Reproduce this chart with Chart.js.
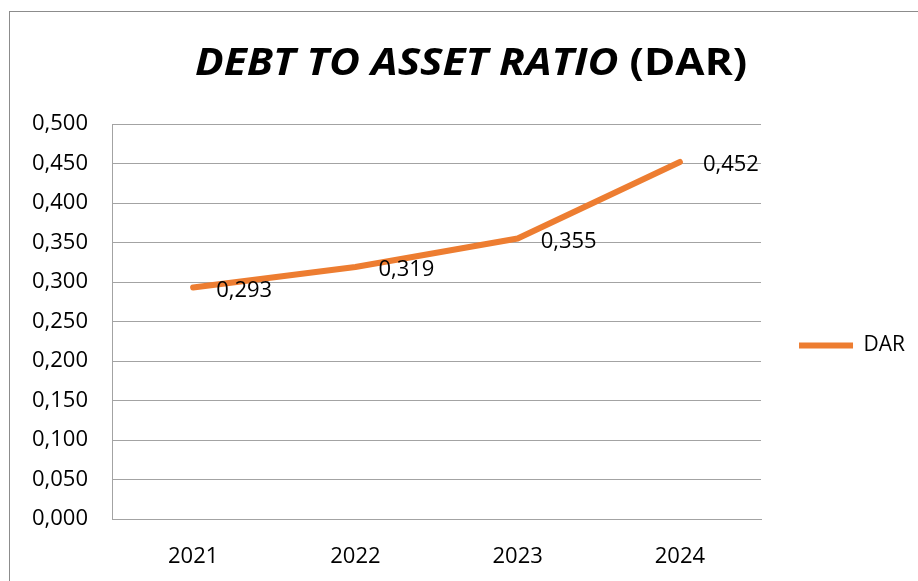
<!DOCTYPE html>
<html>
<head>
<meta charset="utf-8">
<title>DAR</title>
<script src="https://cdn.jsdelivr.net/npm/chart.js@4.4.1/dist/chart.umd.min.js"></script>
<style>
    html, body { margin: 0; padding: 0; background: #fff; overflow: hidden; }
    #dar-chart { display: block; }
</style>
</head>
<body>
<canvas id="dar-chart" width="918" height="581"></canvas>
<script>
// data
const years = ['2021', '2022', '2023', '2024'];
const darValues = [0.293, 0.319, 0.355, 0.452];
const yTickLabels = ['0,000', '0,050', '0,100', '0,150', '0,200', '0,250', '0,300', '0,350', '0,400', '0,450', '0,500'];
const seriesName = 'DAR';
const titleItalic = 'DEBT TO ASSET RATIO';
const titlePlain = '(DAR)';

const FONT = '"Open Sans", "DejaVu Sans", sans-serif';
const GRID = '#a3a3a3';
const ORANGE = '#ED7D31';

function fmt(v) {
    return v.toFixed(3).replace('.', ',');
}

// frame + title (mixed italic / upright, so drawn by hand)
const frameAndTitle = {
    id: 'frameAndTitle',
    beforeDraw(chart) {
        const ctx = chart.ctx;
        ctx.save();
        ctx.fillStyle = '#fff';
        ctx.fillRect(0, 0, chart.width, chart.height);
        ctx.strokeStyle = '#8c8c8c';
        ctx.lineWidth = 1;
        ctx.strokeRect(9.5, 11.5, 1000, 1000);
        ctx.restore();
    },
    afterDraw(chart) {
        const ctx = chart.ctx;
        const fontA = 'italic bold 38px ' + FONT;
        const fontB = 'bold 38px ' + FONT;
        ctx.save();
        ctx.font = fontA;
        const wA = ctx.measureText(titleItalic + ' ').width;
        ctx.font = fontB;
        const wB = ctx.measureText(titlePlain).width;
        const sx = 552 / (wA + wB);
        ctx.translate(195, 75);
        ctx.scale(sx, 1);
        ctx.fillStyle = '#000';
        ctx.textBaseline = 'alphabetic';
        ctx.textAlign = 'left';
        ctx.font = fontA;
        ctx.fillText(titleItalic, 0, 0);
        ctx.font = fontB;
        ctx.fillText(titlePlain, wA, 0);
        ctx.restore();
    }
};

// value labels to the right of each point
const valueLabels = {
    id: 'valueLabels',
    afterDatasetsDraw(chart) {
        const ctx = chart.ctx;
        const meta = chart.getDatasetMeta(0);
        ctx.save();
        ctx.font = '22px ' + FONT;
        ctx.fillStyle = '#000';
        ctx.textAlign = 'left';
        ctx.textBaseline = 'middle';
        meta.data.forEach((pt, i) => {
            ctx.fillText(fmt(darValues[i]), pt.x + 23, pt.y + 3);
        });
        ctx.restore();
    }
};

const ctx = document.getElementById('dar-chart').getContext('2d');
new Chart(ctx, {
    type: 'line',
    data: {
        labels: years,
        datasets: [{
            label: seriesName,
            data: darValues,
            borderColor: ORANGE,
            backgroundColor: ORANGE,
            borderWidth: 6,
            borderCapStyle: 'round',
            borderJoinStyle: 'round',
            pointRadius: 0,
            tension: 0,
            fill: false
        }]
    },
    options: {
        responsive: false,
        animation: false,
        devicePixelRatio: 1,
        layout: {
            padding: { left: 0, top: 124, right: 3, bottom: 14 }
        },
        plugins: {
            title: { display: false },
            tooltip: { enabled: false },
            legend: {
                display: true,
                position: 'right',
                align: 'center',
                labels: {
                    usePointStyle: true,
                    pointStyle: 'line',
                    pointStyleWidth: 54,
                    padding: 38,
                    color: '#000',
                    font: { family: FONT, size: 21 }
                }
            }
        },
        scales: {
            x: {
                offset: true,
                grid: { display: false, drawTicks: false },
                border: { display: true, color: GRID, width: 1 },
                ticks: {
                    color: '#000',
                    padding: 25,
                    font: { family: FONT, size: 22 }
                },
                afterFit(scale) {
                    scale.height = 48;
                }
            },
            y: {
                min: 0,
                max: 0.5,
                grid: { color: GRID, lineWidth: 1, drawTicks: false },
                border: { display: true, color: GRID, width: 1 },
                ticks: {
                    stepSize: 0.05,
                    color: '#000',
                    padding: 24,
                    font: { family: FONT, size: 22 },
                    callback: function(value, index) {
                        return yTickLabels[index];
                    }
                },
                afterFit(scale) {
                    scale.width = 112;
                }
            }
        }
    },
    plugins: [frameAndTitle, valueLabels]
});
</script>
</body>
</html>
